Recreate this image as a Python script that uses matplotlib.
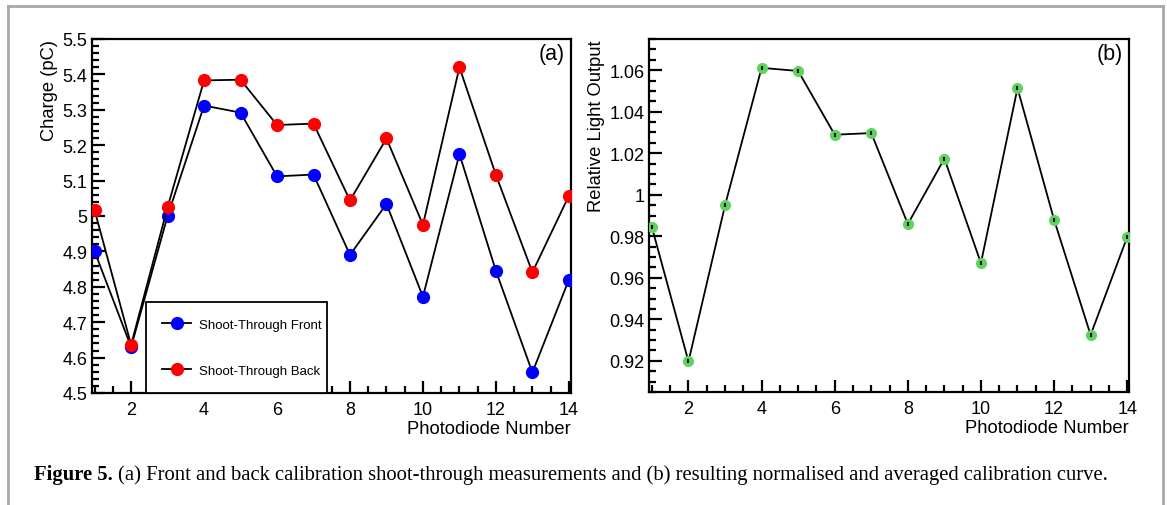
import matplotlib
matplotlib.use('Agg')
import matplotlib.pyplot as plt
from matplotlib.ticker import MultipleLocator
from matplotlib.lines import Line2D

# photodiode numbers
diodes = list(range(1, 15))

# (a) shoot-through charge (pC)
front = [4.90, 4.63, 5.00, 5.312, 5.292, 5.112, 5.117, 4.89, 5.034, 4.772, 5.175, 4.845, 4.558, 4.82]
back = [5.016, 4.636, 5.025, 5.383, 5.385, 5.257, 5.261, 5.044, 5.219, 4.975, 5.42, 5.116, 4.841, 5.057]

# (b) relative light output
light = [0.9843, 0.9197, 0.9949, 1.0611, 1.0596, 1.0289, 1.0297, 0.9859, 1.0174, 0.9671, 1.0513, 0.9880, 0.9325, 0.9796]

plt.rcParams['font.family'] = ['Liberation Sans', 'DejaVu Sans']

W, H = 1167, 506
fig = plt.figure(figsize=(W / 100, H / 100), dpi=100)

# grey frame round the figure
frame = '#a8a8a8'
fig.add_artist(Line2D([8 / W, 8 / W], [0, 1 - 7 / H], color=frame, lw=2, transform=fig.transFigure))
fig.add_artist(Line2D([8 / W, 1163 / W], [1 - 7 / H, 1 - 7 / H], color=frame, lw=2, transform=fig.transFigure))
fig.add_artist(Line2D([1163 / W, 1163 / W], [0, 1 - 7 / H], color=frame, lw=2, transform=fig.transFigure))

axa = fig.add_axes([91.7 / W, 1 - 394 / H, 479 / W, 354 / H])
axb = fig.add_axes([649 / W, 1 - 393 / H, 480 / W, 353 / H])


def style(ax):
    for s in ax.spines.values():
        s.set_linewidth(1.6)
    ax.tick_params(which='both', direction='in', top=False, right=False, labelsize=13, width=1.6)
    ax.tick_params(which='major', length=9)
    ax.tick_params(which='minor', length=5)
    ax.tick_params(axis='y', pad=3)
    ax.tick_params(axis='x', pad=6)
    ax.xaxis.set_major_locator(MultipleLocator(2))
    ax.xaxis.set_minor_locator(MultipleLocator(0.5))
    ax.set_xlim(0.92, 14.05)
    ax.set_xlabel('Photodiode Number', fontsize=13.2, loc='right', labelpad=1)


# panel (a)
axa.plot(diodes, front, color='black', lw=1.3, marker='o', ms=8.5, mfc='#0000ff', mec='#0000ff',
         label='Shoot-Through Front', zorder=3)
axa.plot(diodes, back, color='black', lw=1.3, marker='o', ms=8.5, mfc='#ff0000', mec='#ff0000',
         label='Shoot-Through Back', zorder=3)
style(axa)
axa.set_ylim(4.5, 5.5)
axa.yaxis.set_minor_locator(MultipleLocator(0.02))
axa.set_yticks([4.5, 4.6, 4.7, 4.8, 4.9, 5.0, 5.1, 5.2, 5.3, 5.4, 5.5],
               ['4.5', '4.6', '4.7', '4.8', '4.9', '5', '5.1', '5.2', '5.3', '5.4', '5.5'])
axa.set_ylabel('Charge (pC)', fontsize=13.2, loc='top', labelpad=3)
axa.text(0.988, 0.99, '(a)', transform=axa.transAxes, ha='right', va='top', fontsize=15.5)
leg = axa.legend(loc='lower left', bbox_to_anchor=((145.7 - 91.7) / 479, 0, (326.7 - 145.7) / 479, 94 / 354),
                 mode='expand', fontsize=9.5, frameon=True, fancybox=False, edgecolor='black',
                 framealpha=1, borderaxespad=0, labelspacing=2.55, handlelength=2.2,
                 handletextpad=0.6, borderpad=1.25)
leg.get_frame().set_linewidth(1.3)
leg.set_zorder(10)

# panel (b)
axb.plot(diodes, light, color='black', lw=1.3, marker='o', ms=7, mfc='#5ed35e', mec='#5ed35e', zorder=3)
axb.plot(diodes, light, ls='none', marker='|', ms=3, mew=1.5, color='black', zorder=4)
style(axb)
axb.set_ylim(0.905, 1.075)
axb.yaxis.set_minor_locator(MultipleLocator(0.005))
axb.set_yticks([0.92, 0.94, 0.96, 0.98, 1.0, 1.02, 1.04, 1.06],
               ['0.92', '0.94', '0.96', '0.98', '1', '1.02', '1.04', '1.06'])
axb.set_ylabel('Relative Light Output', fontsize=13.2, loc='top', labelpad=3)
axb.text(0.988, 0.99, '(b)', transform=axb.transAxes, ha='right', va='top', fontsize=15.5)

# caption
cap_y = 1 - 475 / H
t1 = fig.text(34 / W, cap_y, 'Figure 5.', fontsize=14.9, fontweight='bold',
              family=['Liberation Serif', 'DejaVu Serif'], va='center')
fig.canvas.draw()
bb = t1.get_window_extent()
fig.text(bb.x1 / W + 5 / W, cap_y,
         '(a) Front and back calibration shoot-through measurements and (b) resulting normalised and averaged calibration curve.',
         fontsize=14.9, family=['Liberation Serif', 'DejaVu Serif'], va='center')

fig.savefig('out.png', dpi=100)
